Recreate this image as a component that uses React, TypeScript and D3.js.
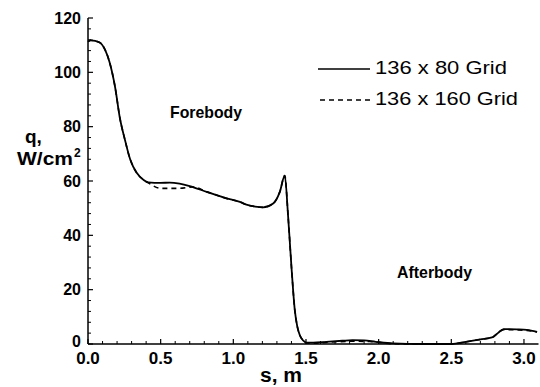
import React from "react";
import * as d3 from "d3";

const sCoarse = [0.0, 0.02, 0.08, 0.12, 0.147, 0.186, 0.22, 0.254, 0.29, 0.335, 0.38, 0.415, 0.5, 0.563, 0.63, 0.7, 0.816, 0.953, 1.045, 1.09, 1.15, 1.205, 1.274, 1.32, 1.354, 1.377, 1.4, 1.423, 1.44, 1.457, 1.48, 1.503, 1.55, 1.64, 1.75, 1.82, 1.9, 1.98, 2.1, 2.3, 2.5, 2.6, 2.7, 2.78, 2.82, 2.86, 2.95, 3.02, 3.09];
const qCoarse = [111.3, 111.8, 111.0, 108.0, 104.0, 94.7, 83.0, 75.2, 68.0, 63.0, 60.5, 59.5, 59.3, 59.4, 59.0, 58.1, 56.0, 53.6, 52.3, 51.3, 50.6, 50.3, 51.7, 56.0, 62.0, 47.0, 28.4, 12.5, 6.5, 3.3, 1.3, 0.5, 0.5, 0.8, 1.2, 1.4, 1.3, 0.8, 0.2, 0.0, 0.0, 0.8, 1.7, 2.4, 4.0, 5.5, 5.4, 5.2, 4.5];

const sFine = [0.0, 0.02, 0.08, 0.12, 0.147, 0.186, 0.22, 0.254, 0.29, 0.335, 0.38, 0.415, 0.5, 0.563, 0.63, 0.72, 0.82, 0.953, 1.045, 1.09, 1.15, 1.205, 1.274, 1.32, 1.354, 1.377, 1.4, 1.423, 1.44, 1.457, 1.48, 1.503, 1.55, 1.64, 1.82, 1.94, 2.1, 2.3, 2.5, 2.6, 2.7, 2.78, 2.82, 2.86, 2.95, 3.02, 3.09];
const qFine = [111.3, 111.8, 111.0, 108.0, 104.0, 94.7, 83.0, 75.2, 68.0, 63.0, 60.5, 59.3, 57.3, 57.3, 57.3, 57.8, 56.0, 53.6, 52.3, 51.3, 50.6, 50.3, 51.7, 56.0, 62.0, 47.0, 28.4, 12.5, 6.5, 3.3, 1.3, 0.4, 0.3, 0.6, 1.0, 0.9, 0.1, 0.0, 0.0, 0.8, 1.7, 2.4, 4.0, 5.3, 5.2, 5.0, 4.4];

const xMajor = [0, 0.5, 1.0, 1.5, 2.0, 2.5, 3.0];
const xTickLabels = ["0.0", "0.5", "1.0", "1.5", "2.0", "2.5", "3.0"];
const yMajor = [0, 20, 40, 60, 80, 100, 120];
const yTickLabels = ["0", "20", "40", "60", "80", "100", "120"];
const seriesNames = ["136 x 80 Grid", "136 x 160 Grid"];

const FONT = "'Liberation Sans', Arial, Helvetica, sans-serif";

export default function App() {
  const x = d3.scaleLinear().domain([0, 3.1]).range([88, 538.5]);
  const y = d3.scaleLinear().domain([0, 120]).range([344, 18]);

  const line = d3
    .line<[number, number]>()
    .x((d) => x(d[0]))
    .y((d) => y(d[1]))
    .curve(d3.curveMonotoneX);

  const coarse: [number, number][] = sCoarse.map((s, i) => [s, qCoarse[i]]);
  const fine: [number, number][] = sFine.map((s, i) => [s, qFine[i]]);

  const xMinor = d3.range(0, 31).map((i) => i / 10).filter((v) => Math.round(v * 10) % 5 !== 0);
  const yMinor = d3.range(0, 121, 4).filter((v) => v % 20 !== 0);

  return (
    <svg
      width={540}
      height={387}
      style={{ position: "absolute", left: 0, top: 0, background: "#fff" }}
      fontFamily={FONT}
    >
      <rect x={0} y={0} width={540} height={387} fill="#fff" />
      {/* axes */}
      <line x1={x(0)} x2={x(0)} y1={y(120)} y2={y(0)} stroke="#000" strokeWidth={1.5} />
      <line x1={x(0)} x2={x(3.1)} y1={y(0)} y2={y(0)} stroke="#000" strokeWidth={1.5} />
      {xMajor.map((v) => (
        <line key={"xM" + v} x1={x(v)} x2={x(v)} y1={y(0)} y2={y(0) - 5} stroke="#000" strokeWidth={1.2} />
      ))}
      {xMinor.map((v) => (
        <line key={"xm" + v} x1={x(v)} x2={x(v)} y1={y(0)} y2={y(0) - 3} stroke="#000" strokeWidth={1} />
      ))}
      {yMajor.map((v) => (
        <line key={"yM" + v} x1={x(0)} x2={x(0) + 5} y1={y(v)} y2={y(v)} stroke="#000" strokeWidth={1.2} />
      ))}
      {yMinor.map((v) => (
        <line key={"ym" + v} x1={x(0)} x2={x(0) + 3} y1={y(v)} y2={y(v)} stroke="#000" strokeWidth={1} />
      ))}
      {xMajor.map((v, i) => (
        <text key={"xl" + v} x={x(v)} y={364} textAnchor="middle" fontSize={17} fontWeight="bold">
          {xTickLabels[i]}
        </text>
      ))}
      {yMajor.map((v, i) => (
        <text key={"yl" + v} x={81} y={y(v) + (v === 0 ? 2.5 : 5.5)} textAnchor="end" fontSize={16} fontWeight="bold">
          {yTickLabels[i]}
        </text>
      ))}
      {/* axis titles */}
      <text x={25} y={143} fontSize={19} fontWeight="bold">q,</text>
      <text x={17} y={165} fontSize={18} fontWeight="bold" textLength={56} lengthAdjust="spacingAndGlyphs">W/cm</text>
      <text x={74} y={157} fontSize={12} fontWeight="bold">2</text>
      <text x={260} y={382} fontSize={20} fontWeight="bold" textLength={42} lengthAdjust="spacingAndGlyphs">s, m</text>
      {/* annotations */}
      <text x={170} y={118} fontSize={17} fontWeight="bold" textLength={72} lengthAdjust="spacingAndGlyphs">Forebody</text>
      <text x={397} y={278} fontSize={16} fontWeight="bold" textLength={75} lengthAdjust="spacingAndGlyphs">Afterbody</text>
      {/* curves */}
      <path d={line(fine) ?? ""} fill="none" stroke="#000" strokeWidth={1.6} strokeDasharray="5,4" />
      <path d={line(coarse) ?? ""} fill="none" stroke="#000" strokeWidth={1.8} strokeLinejoin="round" />
      {/* legend */}
      <line x1={318} x2={370} y1={69} y2={69} stroke="#000" strokeWidth={1.5} />
      <text x={375} y={73.5} fontSize={18.5} textLength={132} lengthAdjust="spacingAndGlyphs">{seriesNames[0]}</text>
      <line x1={320} x2={370} y1={100} y2={100} stroke="#000" strokeWidth={1.3} strokeDasharray="5,4" />
      <text x={375} y={104.5} fontSize={18.5} textLength={143} lengthAdjust="spacingAndGlyphs">{seriesNames[1]}</text>
    </svg>
  );
}
